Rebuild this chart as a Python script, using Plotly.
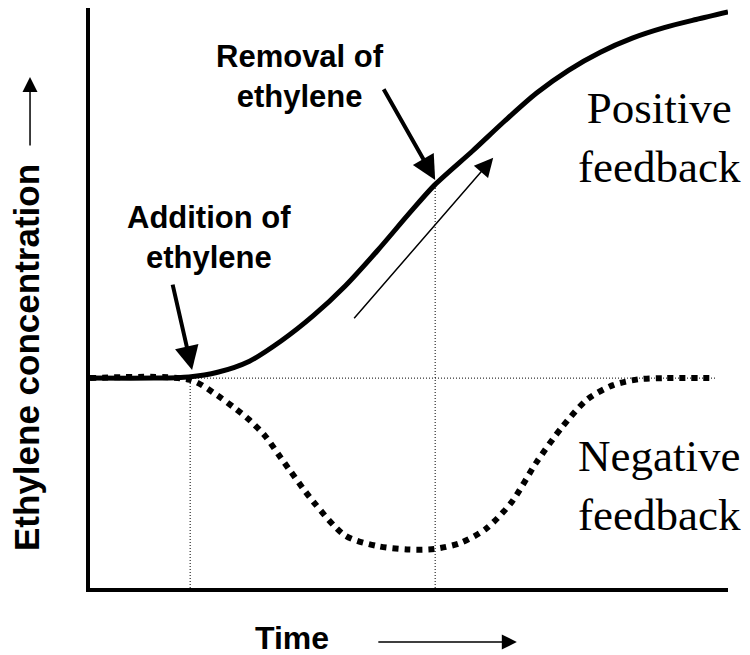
import plotly.graph_objects as go

# ---- data (arbitrary units: time 0-10, concentration 0-10) ----
time_pos = [0, 1.0, 1.55, 2.0, 2.5, 3.0, 3.5, 4.0, 4.5, 5.0, 5.4, 6.0, 6.5, 7.0, 7.5, 8.0, 8.5, 9.0, 9.5, 10.0]
conc_pos = [3.6, 3.6, 3.62, 3.7, 3.89, 4.24, 4.67, 5.18, 5.78, 6.42, 6.91, 7.5, 8.01, 8.49, 8.88, 9.19, 9.43, 9.61, 9.75, 9.88]

time_neg = [0, 1.57, 2.0, 2.25, 2.5, 2.75, 3.0, 3.5, 4.0, 4.5, 5.0, 5.4, 5.8, 6.2, 6.6, 7.0, 7.4, 7.8, 8.2, 8.6, 9.0, 9.8]
conc_neg = [3.6, 3.57, 3.30, 3.10, 2.88, 2.60, 2.22, 1.48, 0.90, 0.72, 0.66, 0.67, 0.77, 1.01, 1.46, 2.16, 2.76, 3.24, 3.48, 3.58, 3.6, 3.6]

baseline = 3.6
t_add = 1.57
t_remove = 5.41
conc_at_remove = 6.92
t_end_ref = 9.8

SANS = "Liberation Sans, Arial, sans-serif"
SERIF = "Liberation Serif, Times New Roman, serif"

fig = go.Figure()

# reference dotted guide lines
guide = dict(color="black", width=1, dash="1px,2px")
fig.add_trace(go.Scatter(x=[0, t_end_ref], y=[baseline, baseline], mode="lines", line=guide, hoverinfo="skip"))
fig.add_trace(go.Scatter(x=[t_add, t_add], y=[0, baseline], mode="lines", line=guide, hoverinfo="skip"))
fig.add_trace(go.Scatter(x=[t_remove, t_remove], y=[0, conc_at_remove], mode="lines", line=guide, hoverinfo="skip"))

# negative feedback (dotted)
fig.add_trace(go.Scatter(x=time_neg, y=conc_neg, mode="lines",
                         line=dict(color="black", width=6, dash="6px,6px", shape="spline", smoothing=0.8),
                         name="Negative feedback"))
# positive feedback (solid)
fig.add_trace(go.Scatter(x=time_pos, y=conc_pos, mode="lines",
                         line=dict(color="black", width=5, shape="spline", smoothing=0.8),
                         name="Positive feedback"))

annotations = [
    # text labels
    dict(x=3.29, y=8.78, xref="x", yref="y", text="Removal of<br>ethylene", showarrow=False,
         font=dict(family=SANS, size=31, color="black", weight="bold"), xanchor="center", yanchor="middle"),
    dict(x=1.87, y=6.02, xref="x", yref="y", text="Addition of<br>ethylene", showarrow=False,
         font=dict(family=SANS, size=31, color="black", weight="bold"), xanchor="center", yanchor="middle"),
    dict(x=8.93, y=7.72, xref="x", yref="y", text="Positive<br>feedback", showarrow=False,
         font=dict(family=SERIF, size=45, color="black"), xanchor="center", yanchor="middle"),
    dict(x=8.92, y=1.75, xref="x", yref="y", text="Negative<br>feedback", showarrow=False,
         font=dict(family=SERIF, size=45, color="black"), xanchor="center", yanchor="middle"),
    # thick arrows
    dict(x=5.41, y=7.0, ax=4.59, ay=8.58, xref="x", yref="y", axref="x", ayref="y", text="",
         showarrow=True, arrowhead=2, arrowsize=1.2, arrowwidth=4, arrowcolor="black", standoff=0),
    dict(x=1.60, y=3.74, ax=1.29, ay=5.23, xref="x", yref="y", axref="x", ayref="y", text="",
         showarrow=True, arrowhead=2, arrowsize=1.2, arrowwidth=4, arrowcolor="black", standoff=0),
    # thin arrow
    dict(x=6.32, y=7.38, ax=4.12, ay=4.60, xref="x", yref="y", axref="x", ayref="y", text="",
         showarrow=True, arrowhead=2, arrowsize=2.5, arrowwidth=1.5, arrowcolor="black", standoff=0),
    # axis titles
    dict(x=-0.0987, y=0.3966, xref="paper", yref="paper", text="Ethylene concentration", textangle=-90,
         showarrow=False, font=dict(family=SANS, size=35, color="black", weight="bold"),
         xanchor="center", yanchor="middle"),
    dict(x=0.3166, y=-0.0862, xref="paper", yref="paper", text="Time", showarrow=False,
         font=dict(family=SANS, size=32, color="black", weight="bold"), xanchor="center", yanchor="middle"),
    # axis direction arrows
    dict(x=-0.094, y=0.881, xref="paper", yref="paper", ax=0, ay=70, text="", showarrow=True,
         arrowhead=2, arrowsize=2, arrowwidth=1.5, arrowcolor="black", standoff=0),
    dict(x=0.669, y=-0.0931, xref="paper", yref="paper", ax=-140, ay=0, text="", showarrow=True,
         arrowhead=2, arrowsize=2, arrowwidth=1.5, arrowcolor="black", standoff=0),
]

fig.update_layout(
    width=742, height=647,
    margin=dict(l=82, r=22, t=0, b=67),
    paper_bgcolor="white", plot_bgcolor="white",
    showlegend=False,
    annotations=annotations,
    xaxis=dict(range=[0, 10], showgrid=False, zeroline=False, showticklabels=False, ticks="",
               showline=True, linecolor="black", linewidth=4),
    yaxis=dict(range=[0, 9.948], showgrid=False, zeroline=False, showticklabels=False, ticks="",
               showline=True, linecolor="black", linewidth=4),
)

fig.write_html("out.html")
